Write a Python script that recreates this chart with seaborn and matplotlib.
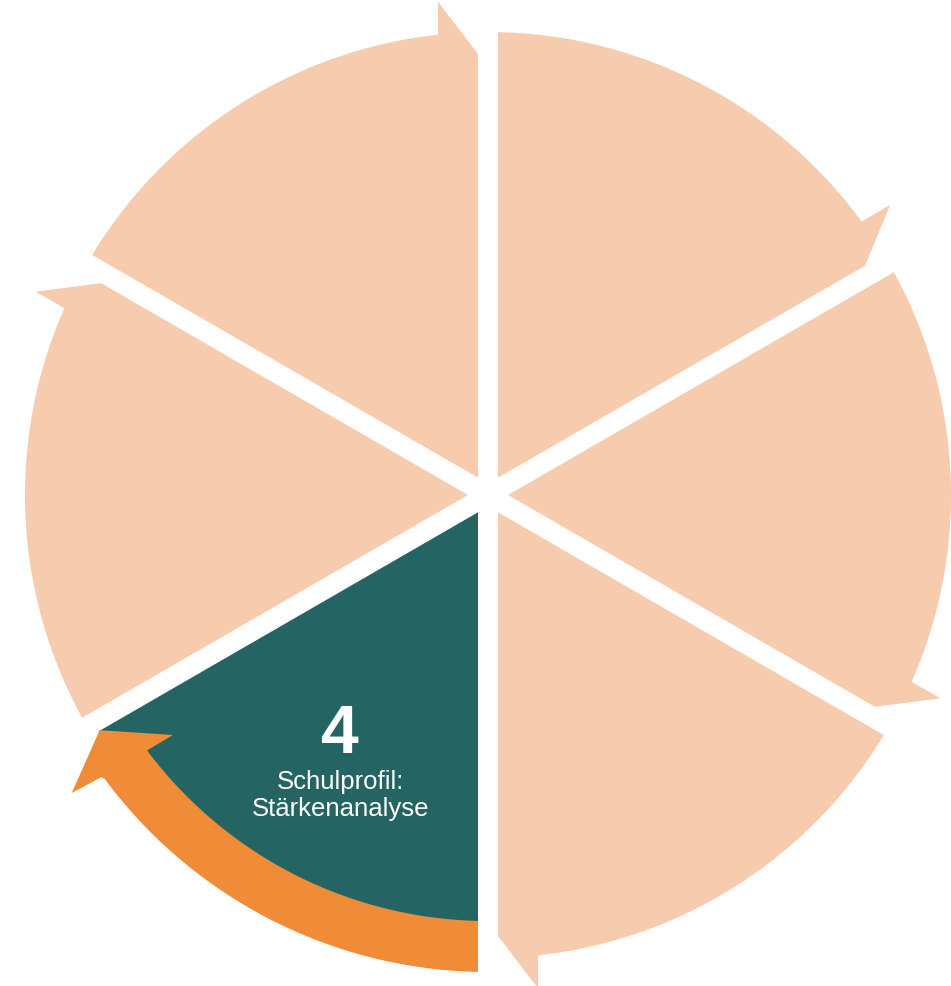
import numpy as np
import matplotlib
matplotlib.use("Agg")
import matplotlib.pyplot as plt
from matplotlib.patches import Polygon
import seaborn as sns

# ---- data ----
segment_starts = [150, 90, 30, -30, -90, -150]   # degrees, each segment spans 60 deg clockwise
segment_numbers = ["", "", "", "", "4", ""]
segment_title_lines = [[], [], [], [], ["Schulprofil:", "Stärkenanalyse"], []]
highlight = 4

peach = "#F7CCAE"
teal = "#246462"
orange = "#F08B37"

sns.set_theme(style="white")
plt.rcParams['font.family'] = ['Liberation Sans', 'DejaVu Sans']

W, H = 951, 987
cx, cy = 488, 496
fig = plt.figure(figsize=(W / 100, H / 100), dpi=100)
ax = fig.add_axes([0, 0, 1, 1])
ax.set_xlim(-cx, W - cx)
ax.set_ylim(-(H - cy), cy)
ax.axis("off")

g = 10.0   # half gap


def u(a):
    a = np.deg2rad(a)
    return np.array([np.cos(a), np.sin(a)])


def wedge(a1, R, arrow=True):
    a2 = a1 - 60
    pts = [20 * u(a1 - 30)]
    t = np.sqrt(R ** 2 - g ** 2)
    pts.append(t * u(a1) + g * u(a1 - 90))
    a_start = a1 - np.degrees(np.arcsin(g / R))
    if arrow:
        a_end = a2 + 6.2
        for a in np.linspace(a_start, a_end, 120):
            pts.append(R * u(a))
        pts.append((R + 33) * u(a2 + 5.8))
        pts.append(441 * u(a2) + g * u(a2 + 90))
    else:
        a_end = a2 + np.degrees(np.arcsin(g / R))
        for a in np.linspace(a_start, a_end, 120):
            pts.append(R * u(a))
    return np.array(pts)


for i, a1 in enumerate(segment_starts):
    if i == highlight:
        poly = wedge(a1, 455, arrow=False)
        col = teal
    else:
        poly = wedge(a1, 463, arrow=True)
        col = peach
    ax.add_patch(Polygon(poly, closed=True, facecolor=col, edgecolor="none"))

# orange curved arrow along highlighted segment
a1 = segment_starts[highlight]
r_in, r_out = 426, 477
ang_out0 = -90 - np.degrees(np.arcsin(g / r_out))
ang_in0 = -90 - np.degrees(np.arcsin(g / r_in))
ang_end = a1 - 53.5
pts = []
for a in np.linspace(ang_out0, ang_end, 150):
    pts.append(r_out * u(a))
pts.append(479 * u(a1 - 53.9))
pts.append(512 * u(a1 - 54.4))
pts.append(454 * u(a1 - 58.8))
pts.append(396 * u(a1 - 52.7))
pts.append(429 * u(a1 - 53.2))
for a in np.linspace(ang_end, ang_in0, 150):
    pts.append(r_in * u(a))
ax.add_patch(Polygon(np.array(pts), closed=True, facecolor=orange, edgecolor="none"))

# labels
for i, a1 in enumerate(segment_starts):
    if segment_numbers[i]:
        ax.text(-148, -239, segment_numbers[i], color="white", fontsize=49,
                fontweight="bold", ha="center", va="center")
        for k, line in enumerate(segment_title_lines[i]):
            ax.text(-147, -286 - 27 * k, line, color="white", fontsize=18.5,
                    ha="center", va="center")

fig.savefig("out.png", dpi=100)
